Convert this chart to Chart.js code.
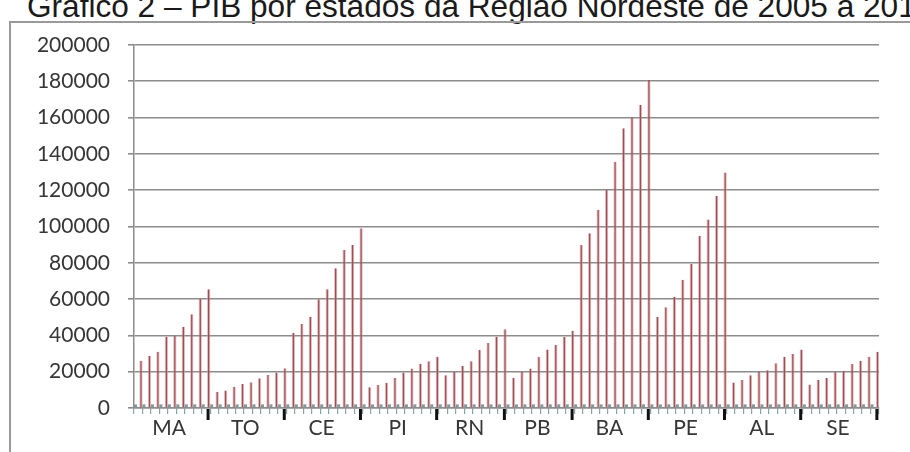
<!DOCTYPE html>
<html lang="pt-BR">
<head>
<meta charset="utf-8">
<title>PIB por estados da Região Nordeste</title>
<script src="https://cdn.jsdelivr.net/npm/chart.js@4/dist/chart.umd.min.js"></script>
<style>
  html, body { margin: 0; padding: 0; background: #ffffff; }
  #wrap { position: relative; width: 910px; height: 452px; overflow: hidden; }
  #titulo {
    position: absolute; left: 27px; top: -9px; white-space: nowrap;
    font-family: "Liberation Sans", Arial, sans-serif; font-size: 31.6px; line-height: 30px;
    color: #1a1a1a;
  }
  #moldura {
    position: absolute; left: 9px; top: 21px; width: 1000px; height: 600px;
    border-left: 2px solid #9a9a9a; border-top: 2px solid #9a9a9a;
  }
  #grafico { position: absolute; left: 0; top: 0; }
</style>
</head>
<body>
<div id="wrap">
  <div id="titulo">Gráfico 2 – PIB por estados da Região Nordeste de 2005 a 2013</div>
  <div id="moldura"></div>
  <canvas id="grafico" width="910" height="452"></canvas>
</div>
<script>
// Estados (grupos do eixo horizontal)
const estados = ['MA', 'TO', 'CE', 'PI', 'RN', 'PB', 'BA', 'PE', 'AL', 'SE'];

// Anos de cada grupo (a coluna de anos também entrou como série)
const anos = [2005, 2006, 2007, 2008, 2009, 2010, 2011, 2012, 2013];

// PIB (R$ milhões) por estado
const pibMA = [26000, 28600, 31000, 39300, 40000, 44800, 51600, 60000, 65400];
const pibTO = [9000, 9600, 11700, 13200, 14200, 16400, 18200, 19600, 21900];
const pibCE = [41300, 46300, 50300, 59900, 65400, 77000, 87000, 89800, 99000];
const pibPI = [11400, 12700, 13900, 16700, 19500, 21700, 24400, 25800, 28300];
const pibRN = [18100, 19900, 23100, 25700, 32000, 35800, 39300, 43400];
const pibPB = [16700, 20000, 21700, 28100, 32300, 34700, 39100, 42500];
const pibBA = [89800, 96300, 109100, 120100, 135700, 154100, 160200, 167000, 180700];
const pibPE = [50300, 55500, 61300, 70700, 79300, 94700, 103900, 116800, 129700];
const pibAL = [14000, 15400, 18000, 20000, 20800, 24600, 28300, 29800, 32300];
const pibSE = [13000, 15400, 16700, 19800, 20500, 24200, 26000, 28300, 31000];

// Marcas do eixo vertical
const marcasY = [0, 20000, 40000, 60000, 80000, 100000, 120000, 140000, 160000, 180000, 200000];

const grupos = [pibMA, pibTO, pibCE, pibPI, pibRN, pibPB, pibBA, pibPE, pibAL, pibSE];

// Tabela achatada: uma categoria por estado/ano
const categorias = [];
const serieAnos = [];
const seriePIB = [];
grupos.forEach((valores, g) => {
  valores.forEach((v, i) => {
    categorias.push(estados[g] + ' ' + anos[i]);
    serieAnos.push(anos[i]);
    seriePIB.push(v);
  });
});

const corTexto = '#363636';
const fonteEixo = { family: 'Lato, "Open Sans", sans-serif', size: 21 };

// Separadores pretos entre estados e nomes dos estados sob o eixo
const rotulosEstados = {
  id: 'rotulosEstados',
  afterDraw(chart) {
    const x = chart.scales.x;
    const ctx = chart.ctx;
    const passo = x.getPixelForValue(1) - x.getPixelForValue(0);
    const base = chart.chartArea.bottom;
    let inicio = 0;
    ctx.save();
    grupos.forEach((valores, g) => {
      const n = valores.length;
      const p0 = x.getPixelForValue(inicio);
      const p1 = x.getPixelForValue(inicio + n - 1);
      ctx.fillStyle = '#111111';
      ctx.fillRect(p1 + passo * 0.25 - 1.5, base + 1, 3, 11);
      ctx.fillStyle = corTexto;
      ctx.font = fonteEixo.size + 'px ' + fonteEixo.family;
      ctx.textAlign = 'center';
      ctx.textBaseline = 'middle';
      ctx.fillText(estados[g], (p0 + p1) / 2 - 3, base + 20);
      inicio += n;
    });
    ctx.restore();
  }
};

new Chart(document.getElementById('grafico'), {
  type: 'bar',
  data: {
    labels: categorias,
    datasets: [
      {
        label: 'Ano',
        data: serieAnos,
        backgroundColor: '#7f9a9a',
        borderWidth: 0,
        categoryPercentage: 1.3,
        barPercentage: 0.55
      },
      {
        label: 'PIB',
        data: seriePIB,
        backgroundColor: '#a24c52',
        borderColor: 'rgba(205,150,155,0.6)',
        borderWidth: { left: 1, right: 1, top: 0, bottom: 0 },
        borderSkipped: false,
        categoryPercentage: 1.3,
        barPercentage: 0.62
      }
    ]
  },
  options: {
    responsive: false,
    animation: false,
    events: [],
    layout: { padding: { top: 45, right: 31, bottom: 0, left: 0 } },
    plugins: {
      legend: { display: false },
      tooltip: { enabled: false },
      title: { display: false }
    },
    scales: {
      x: {
        offset: true,
        grid: {
          display: true,
          drawOnChartArea: false,
          offset: true,
          drawTicks: true,
          tickLength: 6,
          color: '#88a4a4',
          lineWidth: 1.2
        },
        border: { display: true, color: '#8c8c8c', width: 1.5 },
        ticks: { display: false },
        afterFit(scale) { scale.height = 44; }
      },
      y: {
        min: 0,
        max: 200000,
        afterBuildTicks(scale) { scale.ticks = marcasY.map(v => ({ value: v })); },
        grid: {
          color: '#8c8c8c',
          lineWidth: 1.6,
          drawTicks: true,
          tickLength: 6
        },
        border: { display: true, color: '#8c8c8c', width: 1.5 },
        ticks: {
          padding: 18,
          color: corTexto,
          font: fonteEixo,
          callback: v => String(v)
        },
        afterFit(scale) { scale.width = 134; }
      }
    }
  },
  plugins: [rotulosEstados]
});
</script>
</body>
</html>
